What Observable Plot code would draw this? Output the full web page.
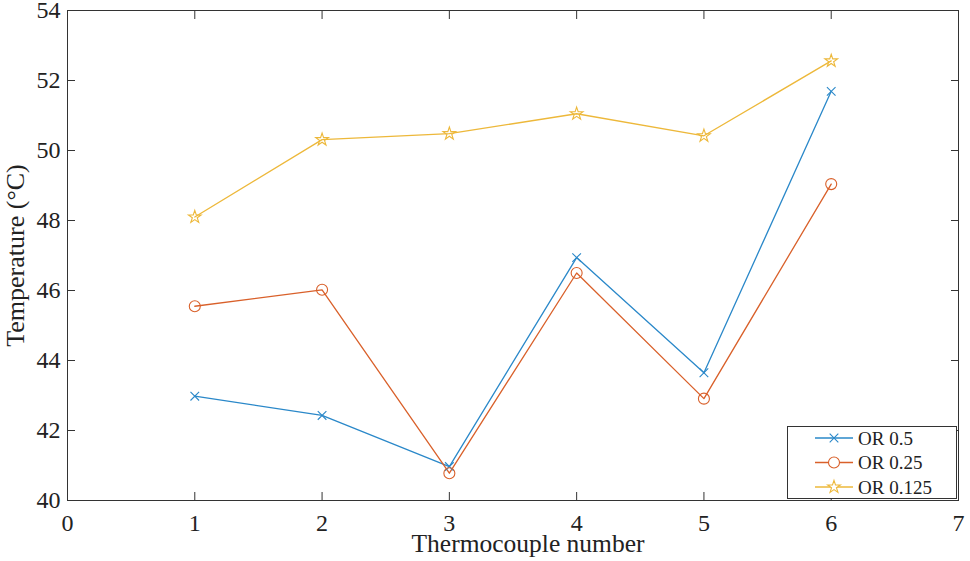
<!DOCTYPE html>
<html>
<head>
<meta charset="utf-8">
<script src="https://cdn.jsdelivr.net/npm/d3@7"></script>
<script src="https://cdn.jsdelivr.net/npm/@observablehq/plot@0.6"></script>
<style>
  html, body { margin: 0; padding: 0; background: #fff; }
  #wrap { position: relative; width: 970px; height: 561px; font-family: "Liberation Serif", "Times New Roman", serif; }
  #wrap svg text { font-family: "Liberation Serif", "Times New Roman", serif !important; }
  #legend { position: absolute; left: 787px; top: 426px; width: 170px; height: 73px; border: 1px solid #333; background: #fff; box-sizing: border-box; }
</style>
</head>
<body>
<div id="wrap"><div id="legend"></div></div>
<script>
const thermocouples = [1, 2, 3, 4, 5, 6];
const seriesNames = ["OR 0.5", "OR 0.25", "OR 0.125"];
const or05 = [42.98, 42.43, 40.97, 46.94, 43.65, 51.69];
const or025 = [45.55, 46.02, 40.78, 46.50, 42.91, 49.04];
const or0125 = [48.10, 50.31, 50.48, 51.05, 50.42, 52.56];
const xTicks = [0, 1, 2, 3, 4, 5, 6, 7];
const yTicks = [40, 42, 44, 46, 48, 50, 52, 54];
const xTitle = "Thermocouple number";
const yTitle = "Temperature (°C)";
const colors = ["#2a88c9", "#d9602a", "#edb83a"];
const symbols = ["times", "circle", "star"];
const symbolR = [4, 5.5, 4];

const seriesValues = [or05, or025, or0125];
const rows = [];
seriesNames.forEach((name, i) => {
  thermocouples.forEach((t, j) => rows.push({series: name, x: t, y: seriesValues[i][j]}));
});

const font = "Liberation Serif";
const axisColor = "#333";
const fmt = d3.format("d");

const lineMarks = seriesNames.map((name, i) =>
  Plot.line(rows.filter(d => d.series === name), {x: "x", y: "y", stroke: colors[i], strokeWidth: 1.3})
);
const dotMarks = seriesNames.map((name, i) =>
  Plot.dot(rows.filter(d => d.series === name), {x: "x", y: "y", stroke: colors[i], fill: "none", symbol: symbols[i], r: symbolR[i], strokeWidth: 1.1})
);

const chart = Plot.plot({
  width: 970,
  height: 561,
  marginLeft: 67,
  marginRight: 12,
  marginTop: 10,
  marginBottom: 61,
  style: "font-family: 'Liberation Serif', serif; background: #fff; color: #333;",
  x: {domain: [0, 7]},
  y: {domain: [40, 54]},
  marks: [
    Plot.frame({stroke: axisColor, strokeWidth: 1}),
    // inward tick marks on all four sides
    Plot.axisX({anchor: "bottom", ticks: xTicks, tickSize: -8, tickFormat: () => "", label: null, stroke: axisColor}),
    Plot.axisX({anchor: "top", ticks: xTicks, tickSize: -8, tickFormat: () => "", label: null, stroke: axisColor}),
    Plot.axisY({anchor: "left", ticks: yTicks, tickSize: -8, tickFormat: () => "", label: null, stroke: axisColor}),
    Plot.axisY({anchor: "right", ticks: yTicks, tickSize: -8, tickFormat: () => "", label: null, stroke: axisColor}),
    // tick labels
    Plot.axisX({anchor: "bottom", ticks: xTicks, tickFormat: fmt, tickSize: 0, tickPadding: 13, fontSize: 24, fontFamily: font, label: null, fill: "#222"}),
    Plot.axisY({anchor: "left", ticks: yTicks, tickFormat: fmt, tickSize: 0, tickPadding: 7, fontSize: 24, fontFamily: font, label: null, fill: "#222"}),
    // axis titles
    Plot.text([xTitle], {frameAnchor: "bottom", text: d => d, dx: 15, dy: 33, lineAnchor: "top", fontSize: 25.5, fontFamily: font, fill: "#222"}),
    Plot.axisY({anchor: "left", ticks: [], tickSize: 0, label: yTitle, labelAnchor: "center", labelArrow: "none", labelOffset: 62, fontSize: 26, fontFamily: font, fill: "#222"}),
    ...lineMarks,
    ...dotMarks
  ]
});

const wrap = document.getElementById("wrap");
wrap.insertBefore(chart, wrap.firstChild);

// legend
const lg = d3.select("#legend").append("svg").attr("width", 168).attr("height", 71).style("display", "block");
const symMap = {times: d3.symbolTimes, circle: d3.symbolCircle, star: d3.symbolStar};
seriesNames.forEach((name, i) => {
  const y = 11 + i * 24.5;
  const g = lg.append("g").attr("transform", `translate(0,${y})`);
  g.append("line").attr("x1", 27).attr("x2", 65).attr("y1", 0).attr("y2", 0).attr("stroke", colors[i]).attr("stroke-width", 1.3);
  const rr = symbolR[i];
  g.append("path").attr("transform", "translate(46,0)")
    .attr("d", d3.symbol(symMap[symbols[i]], rr * rr * Math.PI)())
    .attr("fill", "#fff").attr("fill-opacity", i === 0 ? 0 : 1).attr("stroke", colors[i]).attr("stroke-width", 1.1);
  g.append("text").attr("x", 70).attr("y", 0).attr("dy", "0.35em").attr("font-size", 19).attr("font-family", font).attr("fill", "#222").text(name);
});
</script>
</body>
</html>
